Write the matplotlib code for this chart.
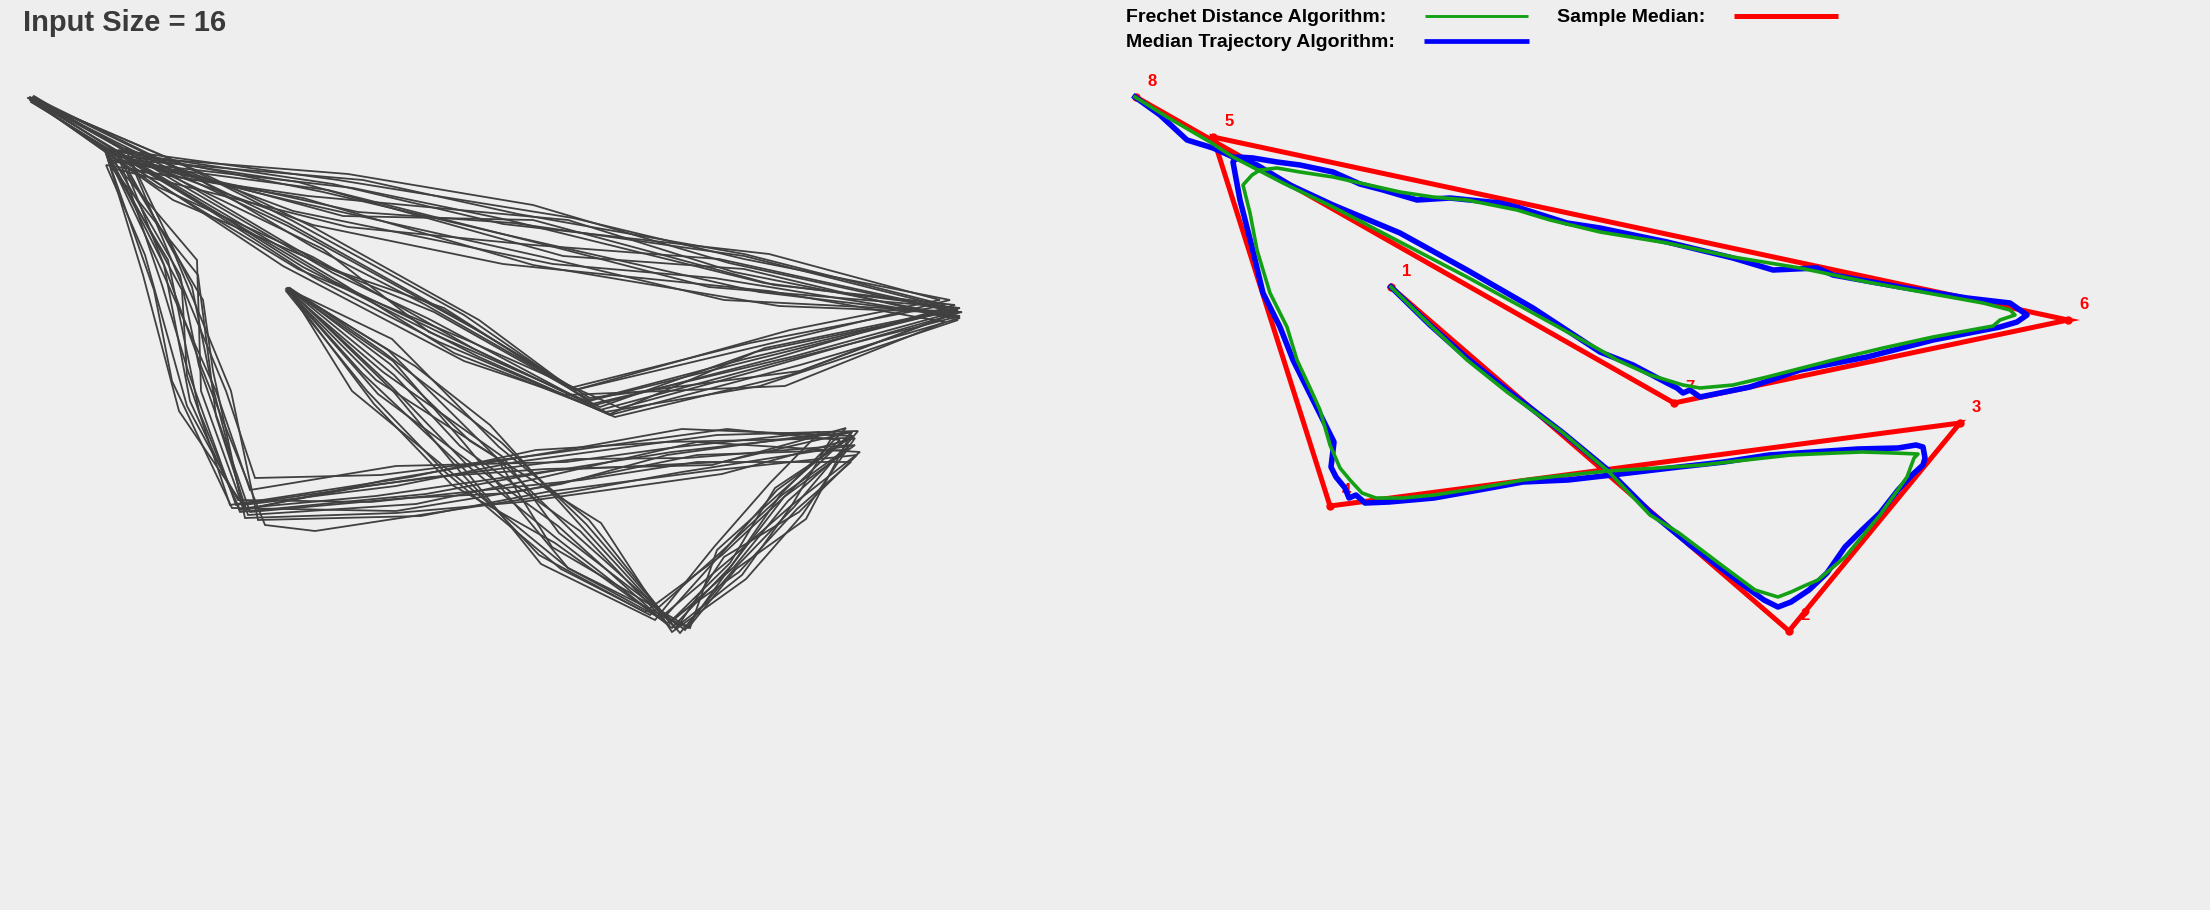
import matplotlib
matplotlib.use("Agg")
import matplotlib.pyplot as plt
from matplotlib.lines import Line2D

# ---------------- data (trajectory space, y grows downward) ----------------
title_text = "Input Size = 16"

# 16 input trajectories (left panel)
trajectories = [
    [(288,289),(391,386),(468,466),(555,537),(672,628),(732,565),(784,497),(852,432),(672,452),(546,472),(426,494),(240,512),(199,411),(168,260),(108,160),(353,188),(508,220),(764,283),(958,308),(745,359),(590,400),(434,312),(328,268),(153,164),(30,97)],
    [(290,288),(382,351),(502,443),(586,524),(680,633),(735,568),(794,507),(858,431),(717,435),(516,462),(396,486),(243,505),(210,376),(192,287),(125,148),(293,211),(553,264),(714,278),(960,318),(800,365),(610,415),(479,357),(303,267),(198,201),(33,100)],
    [(286,291),(367,391),(444,471),(561,569),(645,612),(722,555),(784,497),(855,445),(682,472),(571,492),(420,515),(315,531),(265,525),(201,366),(168,275),(118,150),(338,180),(573,218),(744,259),(950,300),(760,346),(575,390),(454,316),(288,223),(183,172),(35,99)],
    [(289,289),(394,375),(460,446),(580,531),(667,623),(739,572),(797,509),(851,462),(697,462),(581,480),(371,502),(238,500),(187,406),(145,255),(106,165),(303,198),(533,265),(779,306),(957,313),(790,375),(615,417),(439,342),(313,277),(203,206),(31,102)],
    [(287,290),(376,380),(496,457),(552,547),(690,628),(717,550),(780,493),(840,440),(727,429),(546,454),(381,475),(255,478),(226,391),(184,290),(130,160),(363,180),(518,214),(744,254),(945,305),(750,343),(570,388),(464,315),(293,221),(173,160),(28,98)],
    [(288,288),(352,391),(458,478),(568,568),(660,618),(728,561),(792,505),(835,432),(667,455),(561,484),(396,511),(232,508),(172,381),(154,290),(104,148),(323,192),(498,233),(759,292),(960,316),(775,363),(600,410),(429,319),(333,273),(173,180),(34,96)],
    [(290,290),(415,366),(490,425),(583,528),(675,628),(742,575),(792,505),(860,452),(697,442),(526,481),(416,504),(248,515),(216,416),(198,275),(112,168),(348,227),(533,245),(719,259),(952,310),(805,347),(585,402),(474,349),(313,257),(158,187),(32,101)],
    [(286,289),(383,372),(503,457),(559,533),(685,630),(732,565),(781,494),(846,428),(712,465),(546,469),(431,477),(236,505),(188,371),(162,285),(118,155),(298,182),(563,256),(744,269),(958,320),(760,386),(605,412),(454,353),(338,281),(148,169),(30,99)],
    [(288,291),(362,373),(465,470),(541,564),(655,620),(714,547),(770,483),(820,432),(677,447),(566,462),(396,466),(250,490),(216,391),(157,260),(105,150),(333,184),(503,224),(769,254),(940,300),(790,330),(575,390),(424,304),(313,247),(188,173),(33,97)],
    [(289,288),(390,364),(470,441),(601,523),(672,632),(746,579),(802,515),(855,438),(722,474),(521,502),(396,513),(245,518),(213,371),(203,300),(120,160),(288,200),(543,257),(724,300),(962,312),(745,374),(620,408),(469,341),(298,269),(173,193),(31,100)],
    [(287,290),(378,394),(471,463),(558,526),(668,625),(734,567),(788,501),(850,445),(687,458),(576,459),(366,486),(240,510),(190,401),(164,265),(107,152),(343,216),(533,220),(774,285),(955,305),(775,358),(595,405),(444,308),(343,273),(173,200),(35,102)],
    [(290,289),(388,350),(500,461),(576,535),(678,626),(724,557),(799,512),(857,455),(707,471),(546,492),(421,516),(258,520),(231,391),(175,255),(128,170),(308,196),(568,220),(734,272),(950,315),(800,371),(590,398),(484,334),(288,226),(193,181),(29,98)],
    [(288,290),(374,404),(452,485),(555,543),(662,620),(721,554),(777,490),(848,438),(667,442),(536,450),(411,477),(230,505),(187,376),(182,290),(110,158),(358,212),(513,223),(744,256),(958,310),(755,352),(600,407),(429,332),(323,249),(163,172),(32,99)],
    [(287,288),(393,361),(463,442),(568,568),(688,628),(736,569),(806,519),(852,432),(722,462),(556,470),(376,496),(245,508),(179,411),(143,275),(105,150),(313,225),(503,264),(769,291),(945,322),(785,386),(565,395),(464,361),(283,266),(188,203),(30,100)],
    [(289,290),(393,391),(462,474),(539,555),(650,615),(720,553),(782,495),(845,450),(697,455),(511,493),(406,498),(250,512),(199,366),(180,275),(115,162),(328,190),(558,248),(709,287),(960,308),(765,348),(610,414),(449,337),(333,281),(143,169),(33,98)],
    [(288,289),(392,339),(499,447),(589,520),(670,622),(730,563),(775,488),(853,436),(682,429),(571,449),(386,480),(244,510),(201,391),(197,260),(108,155),(348,174),(533,205),(729,263),(955,312),(795,356),(592,404),(479,320),(313,227),(198,171),(31,99)],
]

# Sample median (red) vertices and their labels
median_x = [286, 684, 855, 225, 108, 963, 569, 31]
median_y = [287, 631, 423, 506, 137, 320, 403, 97]
median_labels = ["1", "2", "3", "4", "5", "6", "7", "8"]

# Frechet distance algorithm result (green)
frechet_x = [286,325,362,402,457,503,545,574,619,650,673,686,699,713,740,775,802,809,813,789,757,731,686,641,597,552,503,463,418,374,329,298,271,257,245,235,225,215,206,192,182,165,152,145,138,147,155,172,195,228,255,295,328,362,412,445,495,562,628,695,762,828,878,905,910,895,888,828,778,728,662,628,595,578,545,512,495,428,362,295,228,178,128,105,62,30]
frechet_y = [287,325,360,392,432,471,515,533,567,590,597,592,586,580,557,515,477,458,454,453,452,453,455,460,465,468,471,475,480,488,495,498,498,493,480,468,445,410,390,360,327,293,250,213,185,175,170,168,172,177,183,192,197,200,210,220,232,243,257,268,282,294,303,310,315,320,326,337,348,360,377,385,388,385,375,360,350,313,277,242,207,183,157,142,117,97]

# Median trajectory algorithm result (blue)
medtraj_x = [286,325,362,402,457,503,545,585,641,659,673,686,704,722,740,757,775,793,807,818,820,818,811,793,753,708,664,619,574,507,463,418,374,329,284,260,251,244,240,231,226,229,213,188,175,158,147,135,130,128,132,148,172,195,228,255,278,312,345,395,415,462,495,562,628,668,712,728,795,862,905,922,912,895,828,762,695,645,595,585,578,572,562,528,495,428,362,295,228,185,152,128,108,82,55,30]
medtraj_y = [287,325,358,390,432,470,512,545,587,600,607,602,590,573,547,530,513,490,475,465,458,447,445,448,449,452,455,462,467,475,480,482,490,498,502,503,495,498,488,477,467,442,410,360,327,293,247,200,173,162,157,158,162,165,172,184,190,200,198,203,208,223,228,242,258,270,268,275,287,298,303,315,322,327,340,357,370,387,397,390,393,388,383,365,352,308,270,233,205,185,165,157,148,140,115,97]

legend_entries = ["Frechet Distance Algorithm:", "Median Trajectory Algorithm:", "Sample Median:"]

# ---------------- styling ----------------
BG = "#eeeeee"
GRAY = "#404040"
GREEN = "#14a014"
BLUE = "#0000ff"
RED = "#ff0000"
FONT = ["Liberation Sans", "DejaVu Sans"]

W, H = 2210, 910
fig = plt.figure(figsize=(W / 100, H / 100), dpi=100, facecolor=BG)

half = W / 2
axL = fig.add_axes([0, 0, half / W, 1])
axR = fig.add_axes([half / W, 0, half / W, 1])
for ax in (axL, axR):
    ax.set_xlim(0, half)
    ax.set_ylim(H, 0)
    ax.set_facecolor(BG)
    ax.axis("off")

# left panel: input trajectories
for tr in trajectories:
    xs = [p[0] for p in tr]
    ys = [p[1] for p in tr]
    axL.plot(xs, ys, color=GRAY, lw=1.3, solid_joinstyle="miter")

fig.text(23 / W, 1 - 31 / H, title_text, fontsize=21, fontweight="bold",
         color="#3a3a3a", family=FONT, ha="left", va="baseline")

# right panel
for xv, yv, lab in zip(median_x, median_y, median_labels):
    axR.annotate(lab, (xv, yv), xytext=(11.5, 11), textcoords="offset points",
                 ha="center", va="center", fontsize=12, fontweight="bold",
                 color=RED, family=FONT, zorder=1)
axR.plot(median_x, median_y, color=RED, lw=3.6, marker="o", ms=5,
         mfc=RED, mec=RED, zorder=2, solid_joinstyle="miter")
axR.plot(medtraj_x, medtraj_y, color=BLUE, lw=4.0, zorder=3)
axR.plot(frechet_x, frechet_y, color=GREEN, lw=2.6, zorder=4)

# legend (custom, figure coordinates)
def fx(px):
    return px / W

def fy(py):
    return 1 - py / H

fig.text(fx(1126), fy(22), legend_entries[0], fontsize=14, fontweight="bold",
         color="black", family=FONT, ha="left", va="baseline")
fig.text(fx(1126), fy(47), legend_entries[1], fontsize=14, fontweight="bold",
         color="black", family=FONT, ha="left", va="baseline")
fig.text(fx(1557), fy(22), legend_entries[2], fontsize=14, fontweight="bold",
         color="black", family=FONT, ha="left", va="baseline")
fig.add_artist(Line2D([fx(1425), fx(1528)], [fy(16), fy(16)], color=GREEN, lw=2.1,
                      solid_capstyle="butt"))
fig.add_artist(Line2D([fx(1424), fx(1529)], [fy(41), fy(41)], color=BLUE, lw=3.4,
                      solid_capstyle="butt"))
fig.add_artist(Line2D([fx(1734), fx(1838)], [fy(16), fy(16)], color=RED, lw=3.6,
                      solid_capstyle="butt"))

fig.savefig("out.png", dpi=100, facecolor=BG)
